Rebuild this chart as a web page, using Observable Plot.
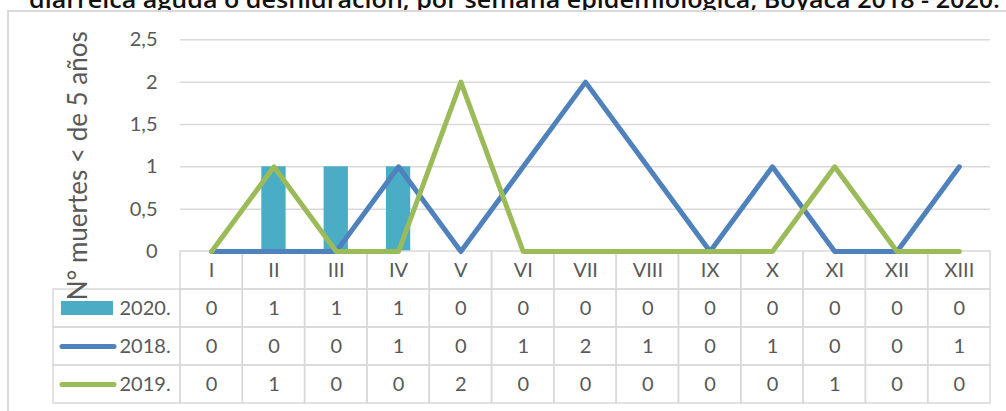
<!DOCTYPE html>
<html>
<head>
<meta charset="utf-8">
<script src="https://cdn.jsdelivr.net/npm/d3@7"></script>
<script src="https://cdn.jsdelivr.net/npm/@observablehq/plot@0.6"></script>
<style>
  html, body { margin: 0; padding: 0; background: white; }
  #wrap { position: relative; width: 1006px; height: 411px; overflow: hidden; background: white; }
  #title { display: block; }
  #border { position: absolute; left: 7px; top: 10px; width: 1010px; height: 410px;
            border-left: 2px solid #d9d9d9; border-top: 2px solid #d9d9d9; pointer-events: none; }
</style>
</head>
<body>
<div id="wrap">
  <svg id="title" width="1006" height="11"></svg>
  <div id="chart"></div>
  <div id="border"></div>
</div>
<script>
// ---- data ----
const titleText = "diarreica aguda o deshidración, por semana epidemiológica, Boyacá 2018 - 2020.";
const yTitle = "N° muertes < de 5 años";
const weeks = ["I","II","III","IV","V","VI","VII","VIII","IX","X","XI","XII","XIII"];
const seriesNames = ["2020.", "2018.", "2019."];
const v2020 = [0,1,1,1,0,0,0,0,0,0,0,0,0];
const v2018 = [0,0,0,1,0,1,2,1,0,1,0,0,1];
const v2019 = [0,1,0,0,2,0,0,0,0,0,1,0,0];
const yTicks = [0, 0.5, 1, 1.5, 2, 2.5];

// ---- style / layout ----
const colors = { "2020.": "#4BACC6", "2018.": "#4F81BD", "2019.": "#9BBB59" };
const grey = "#d9d9d9";
const textColor = "#595959";
const W = 1006, H = 400;
const mL = 180, mR = 16, mT = 28.3;
const zeroPx = 240;                       // pixel row of value 0 inside the svg
const yMax = 2.5, yMin = -1.8;
const pxPerY = (zeroPx - mT) / yMax;
const mB = H - (zeroPx + (-yMin) * pxPerY);
const pxPerX = (W - mL - mR) / weeks.length;
const rowH = 38 / pxPerY;                  // table row height in y units
const labelW = 127 / pxPerX;               // label column width in x units
const labelLeft = 0.5 - labelW;

// title (top cut by the frame, as in the reference; text fitted to width)
const tsvg = d3.select("#title");
tsvg.append("text")
  .attr("x", 29).attr("y", 8)
  .attr("textLength", 971).attr("lengthAdjust", "spacingAndGlyphs")
  .style("font-family", "'Open Sans', sans-serif").style("font-weight", 600)
  .style("font-size", "23px").style("fill", "#111")
  .text(titleText);

const seriesValues = { "2020.": v2020, "2018.": v2018, "2019.": v2019 };
const xi = (d, i) => i + 1;

// table cells
const cells = [];
for (let r = 0; r < 4; r++) {
  weeks.forEach((w, i) => cells.push({ x1: i + 0.5, x2: i + 1.5, y1: -r * rowH, y2: -(r + 1) * rowH }));
  if (r > 0) cells.push({ x1: labelLeft, x2: 0.5, y1: -r * rowH, y2: -(r + 1) * rowH });
}
const rowCenter = r => -(r + 0.5) * rowH;

const marks = [
  Plot.gridY({ ticks: yTicks.filter(t => t > 0), stroke: grey, strokeOpacity: 1, strokeWidth: 1.5 }),
  Plot.rect(v2020, {
    x1: (d, i) => i + 0.5, x2: (d, i) => i + 1.5, y1: 0, y2: d => d,
    fill: colors["2020."], insetLeft: 19, insetRight: 19
  }),
  Plot.rect(cells, { x1: "x1", x2: "x2", y1: "y1", y2: "y2", fill: "none", stroke: grey, strokeWidth: 1.5 }),
  Plot.line(v2018, { x: xi, y: d => d, stroke: colors["2018."], strokeWidth: 5, strokeLinecap: "round", strokeLinejoin: "round" }),
  Plot.line(v2019, { x: xi, y: d => d, stroke: colors["2019."], strokeWidth: 5, strokeLinecap: "round", strokeLinejoin: "round" }),
  Plot.axisY({
    ticks: yTicks, tickSize: 0, tickPadding: 23, label: null,
    tickFormat: d => String(d).replace(".", ","), fontSize: 20, fill: textColor
  }),
  Plot.text(weeks, { x: xi, y: rowCenter(0), text: d => d, fontSize: 20, fill: textColor })
];

seriesNames.forEach((s, k) => {
  const r = k + 1;
  marks.push(Plot.text(seriesValues[s], { x: xi, y: rowCenter(r), text: d => String(d), fontSize: 20, fill: textColor }));
  marks.push(Plot.text([s], { x: labelLeft, y: rowCenter(r), text: d => d, dx: 66, textAnchor: "start", fontSize: 20, fill: textColor }));
  if (s === "2020.") {
    marks.push(Plot.rect([s], {
      x1: labelLeft + 8 / pxPerX, x2: labelLeft + 60 / pxPerX,
      y1: rowCenter(r) - 7 / pxPerY, y2: rowCenter(r) + 7 / pxPerY, fill: colors[s]
    }));
  } else {
    marks.push(Plot.ruleY([rowCenter(r)], {
      x1: labelLeft + 9 / pxPerX, x2: labelLeft + 61 / pxPerX,
      stroke: colors[s], strokeWidth: 5, strokeLinecap: "round"
    }));
  }
});

marks.push(Plot.text([yTitle], {
  frameAnchor: "top-left", dx: -102, dy: 126, rotate: -90, text: d => d,
  textAnchor: "middle", lineAnchor: "middle", fontSize: 26, fill: textColor
}));

const chart = Plot.plot({
  width: W, height: H,
  marginLeft: mL, marginRight: mR, marginTop: mT, marginBottom: mB,
  x: { type: "linear", domain: [0.5, weeks.length + 0.5], axis: null },
  y: { domain: [yMin, yMax] },
  style: { fontFamily: "Lato, 'Open Sans', sans-serif", fontSize: "20px", color: textColor, background: "white", overflow: "visible" },
  marks
});
document.getElementById("chart").appendChild(chart);
</script>
</body>
</html>
